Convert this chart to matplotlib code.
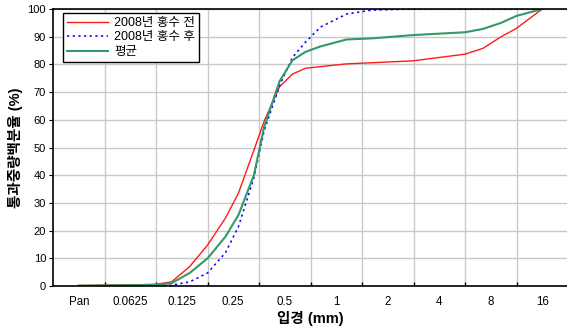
import numpy as np
import matplotlib
matplotlib.use("Agg")
import matplotlib.pyplot as plt

plt.rcParams['font.family'] = ['Liberation Sans', 'Noto Sans CJK KR']

# sieve sizes (mm); Pan drawn one step below 0.0625
tick_labels = ['Pan', '0.0625', '0.125', '0.25', '0.5', '1', '2', '4', '8', '16']
sizes = [0.03125, 0.0625, 0.088, 0.109, 0.139, 0.177, 0.225, 0.268, 0.33, 0.379,
         0.467, 0.555, 0.66, 0.81, 1.15, 1.62, 2.83, 5.66, 7.2, 9.2, 11.3, 16]

before = [0.2, 0.4, 0.6, 1.5, 7.0, 14.8, 24.5, 33.5, 49.0, 59.5,
          72.0, 76.5, 78.6, 79.2, 80.2, 80.6, 81.3, 83.7, 85.8, 90.0, 93.0, 100]
after = [0.0, 0.0, 0.0, 0.3, 1.5, 4.7, 12.0, 21.4, 39.0, 56.0,
         72.5, 82.5, 88.0, 93.5, 98.2, 99.6, 100, 100, 100, 100, 100, 100]
mean = [0.1, 0.3, 0.4, 1.0, 4.7, 10.0, 17.8, 25.6, 40.0, 57.5,
        74.0, 81.5, 84.5, 86.5, 89.0, 89.4, 90.6, 91.6, 92.8, 95.0, 97.5, 100]

x = np.log2(sizes) + 5  # category position: Pan = 0, 16 mm = 9

fig = plt.figure(figsize=(5.67, 3.33), dpi=100)
ax = fig.add_axes([53 / 567, 47 / 333, 515 / 567, 277 / 333])

ax.plot(x, before, color='#ff1a1a', lw=1.0, label='2008년 홍수 전')
ax.plot(x, after, color='#0000ff', lw=1.1, linestyle=(0, (1.5, 2.2)), label='2008년 홍수 후')
ax.plot(x, mean, color='#339966', lw=1.5, label='평균')

ax.set_xlim(-0.5, 9.5)
ax.set_ylim(0, 100)
ax.set_xticks(range(10))
ax.set_xticklabels(tick_labels)
ax.set_xticks(np.arange(0.5, 9, 1), minor=True)
ax.tick_params(axis='x', which='major', length=0, labelsize=8.3, pad=7)
ax.tick_params(axis='x', which='minor', direction='in', length=3, width=1)
ax.set_yticks(range(0, 101, 10))
ax.tick_params(axis='y', length=3, width=0.8, labelsize=8, pad=2)

ax.grid(True, which='minor', axis='x', color='#c8c8c8', lw=1)
ax.grid(True, which='major', axis='y', color='#c8c8c8', lw=1)
ax.set_axisbelow(True)

for s in ['left', 'bottom', 'top']:
    ax.spines[s].set_color('black')
    ax.spines[s].set_linewidth(1.2)
ax.spines['right'].set_visible(False)

ax.set_xlabel('입경 (mm)', fontsize=10.5, fontweight='bold', labelpad=2)
ax.set_ylabel('통과중량백분율 (%)', fontsize=10.5, fontweight='bold', labelpad=3)

leg = ax.legend(loc='upper left', bbox_to_anchor=(0.019, 0.985), fontsize=9,
                frameon=True, fancybox=False, edgecolor='black', framealpha=1,
                handlelength=3.3, borderpad=0.3, labelspacing=0.2, handletextpad=0.5,
                borderaxespad=0)
leg.get_frame().set_linewidth(1.0)

fig.savefig('out.png', dpi=100)
